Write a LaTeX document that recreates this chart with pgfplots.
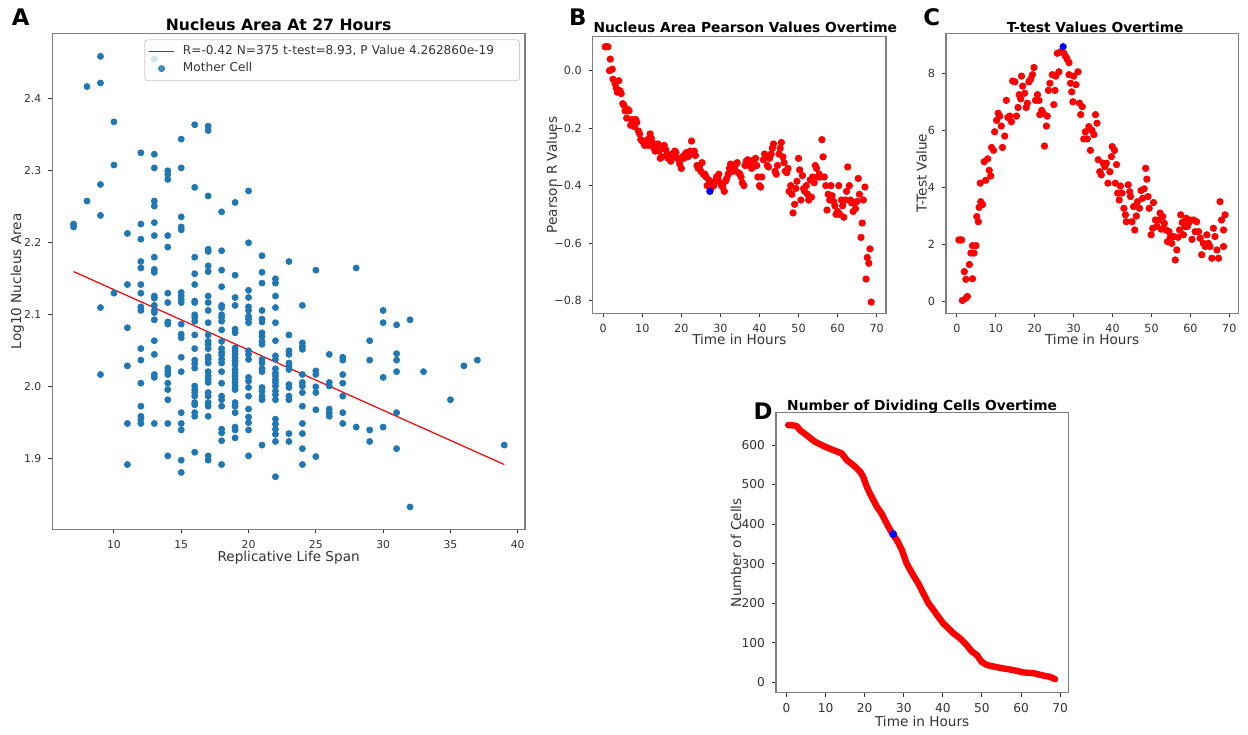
\documentclass[border=0pt]{standalone}
\usepackage{fontspec}
\setmainfont{DejaVu Sans}
\usepackage{pgfplots}
\pgfplotsset{compat=1.18}
\definecolor{mplblue}{HTML}{1F77B4}
\definecolor{spine}{HTML}{7F7F7F}
\definecolor{txt}{HTML}{333333}
\definecolor{legedge}{HTML}{CCCCCC}
\pgfplotsset{
  lineleg/.style={legend image code/.code={\draw[##1] (0pt,0pt) -- (12.2pt,0pt);}},
  dotleg/.style={legend image code/.code={\draw[##1] plot coordinates {(6.1pt,0pt)};}},
  myaxis/.style={
    scale only axis,
    axis line style={draw=spine, line width=0.6pt},
    tick style={draw=txt, line width=0.45pt},
    tick align=outside,
    major tick length=2pt,
    xtick pos=bottom, ytick pos=left,
    ticklabel style={font=\fontsize{5.6}{6}\selectfont, text=txt},
    label style={font=\fontsize{6.8}{8}\selectfont, text=txt},
    xlabel style={at={(axis description cs:0.5,0)}, anchor=center, yshift=-13.3pt},
    ylabel style={at={(axis description cs:0,0.5)}, anchor=center},
    title style={font=\bfseries\fontsize{6.9}{8}\selectfont, at={(axis description cs:0.5,1)}, anchor=base},
    /pgf/number format/assume math mode=true,
    clip=true,
  },
}
\begin{document}
\begin{tikzpicture}
\path[use as bounding box, fill=white] (0,0) rectangle (624pt,367pt);
% ---------------- Panel A ----------------
\begin{axis}[myaxis,
  at={(26.15pt,102.35pt)}, anchor=south west,
  width=236.35pt, height=248pt,
  xmin=5.42, xmax=40.54, ymin=1.802, ymax=2.491,
  xtick={10,15,...,40}, xticklabels={10,15,20,25,30,35,40},
  ytick={1.9,2.0,2.1,2.2,2.3,2.4}, yticklabels={1.9,2.0,2.1,2.2,2.3,2.4},
  ticklabel style={font=\fontsize{5.4}{6}\selectfont},
  xlabel={Replicative Life Span}, ylabel={Log10 Nucleus Area},
  xlabel style={yshift=-1.1pt},
  ylabel style={yshift=17.5pt},
  title={Nucleus Area At 27 Hours},
  title style={font=\bfseries\fontsize{7.8}{9}\selectfont, xshift=-5pt, yshift=-4.4pt},
  legend style={at={(1,1)}, anchor=north east, xshift=-2.5pt, yshift=-3pt,
    font=\fontsize{6.05}{7}\selectfont, text=txt, draw=legedge, rounded corners=1.5pt,
    fill=white, fill opacity=0.8, text opacity=1, draw opacity=1,
    inner xsep=2pt, inner ysep=1.85pt, row sep=0pt,
    nodes={inner ysep=1.15pt, inner xsep=4.3pt, text width=162pt, align=left}},
  legend cell align=left,
]
\addplot[red, line width=0.6pt, lineleg] coordinates {(7,2.160) (39,1.892)};
\addlegendentry{R=-0.42 N=375 t-test=8.93, P Value 4.262860e-19}
\addplot[only marks, mark=*, mark size=1.5pt, draw=mplblue, fill=mplblue, dotleg] table[row sep=\\] {
x y\\
7 2.226\\ 7 2.222\\ 8 2.417\\ 8 2.258\\ 9 2.459\\ 9 2.422\\ 9 2.281\\ 9 2.238\\ 9 2.110\\ 9 2.017\\
10 2.368\\ 10 2.308\\ 10 2.130\\
11 2.213\\ 11 2.142\\ 11 2.082\\ 11 2.029\\ 11 1.949\\ 11 1.892\\
12 2.325\\ 12 2.226\\ 12 2.205\\ 12 2.174\\ 12 2.165\\ 12 2.142\\ 12 2.130\\ 12 2.111\\ 12 2.106\\ 12 2.053\\ 12 2.037\\ 12 2.005\\ 12 1.973\\ 12 1.959\\ 12 1.955\\ 12 1.949\\
13 2.455\\ 13 2.323\\ 13 2.304\\ 13 2.258\\ 13 2.251\\ 13 2.228\\ 13 2.210\\ 13 2.180\\ 13 2.163\\ 13 2.159\\ 13 2.126\\ 13 2.123\\ 13 2.113\\ 13 2.106\\ 13 2.103\\ 13 2.093\\ 13 2.064\\ 13 2.045\\ 13 2.017\\ 13 2.013\\ 13 1.949\\
14 2.300\\ 14 2.295\\ 14 2.288\\ 14 2.210\\ 14 2.194\\ 14 2.130\\ 14 2.117\\ 14 2.090\\ 14 2.087\\ 14 2.026\\ 14 2.022\\ 14 2.017\\ 14 2.005\\ 14 1.996\\ 14 1.982\\ 14 1.949\\ 14 1.904\\
15 2.344\\ 15 2.304\\ 15 2.236\\ 15 2.222\\ 15 2.218\\ 15 2.131\\ 15 2.126\\ 15 2.121\\ 15 2.117\\ 15 2.087\\ 15 2.073\\ 15 2.068\\ 15 2.041\\ 15 2.021\\ 15 1.964\\ 15 1.949\\ 15 1.940\\ 15 1.898\\ 15 1.881\\
16 2.364\\ 16 2.277\\ 16 2.180\\ 16 2.157\\ 16 2.142\\ 16 2.119\\ 16 2.117\\ 16 2.100\\ 16 2.096\\ 16 2.091\\ 16 2.072\\ 16 2.053\\ 16 2.037\\ 16 2.032\\ 16 2.026\\ 16 2.001\\ 16 1.996\\ 16 1.992\\ 16 1.987\\ 16 1.978\\ 16 1.975\\ 16 1.964\\ 16 1.959\\ 16 1.909\\
17 2.362\\ 17 2.356\\ 17 2.265\\ 17 2.191\\ 17 2.188\\ 17 2.168\\ 17 2.160\\ 17 2.126\\ 17 2.117\\ 17 2.106\\ 17 2.089\\ 17 2.072\\ 17 2.063\\ 17 2.059\\ 17 2.053\\ 17 2.042\\ 17 2.038\\ 17 2.033\\ 17 2.021\\ 17 2.015\\ 17 2.010\\ 17 2.006\\ 17 1.992\\ 17 1.987\\ 17 1.978\\ 17 1.973\\ 17 1.959\\ 17 1.904\\ 17 1.898\\
18 2.243\\ 18 2.189\\ 18 2.162\\ 18 2.139\\ 18 2.113\\ 18 2.110\\ 18 2.100\\ 18 2.096\\ 18 2.091\\ 18 2.079\\ 18 2.063\\ 18 2.053\\ 18 2.048\\ 18 2.044\\ 18 2.038\\ 18 2.033\\ 18 2.021\\ 18 2.005\\ 18 1.987\\ 18 1.982\\ 18 1.973\\ 18 1.941\\ 18 1.936\\ 18 1.925\\ 18 1.892\\
19 2.256\\ 19 2.155\\ 19 2.124\\ 19 2.113\\ 19 2.080\\ 19 2.075\\ 19 2.054\\ 19 2.050\\ 19 2.045\\ 19 2.040\\ 19 2.036\\ 19 2.031\\ 19 2.024\\ 19 2.019\\ 19 2.015\\ 19 2.010\\ 19 2.006\\ 19 2.001\\ 19 1.996\\ 19 1.978\\ 19 1.973\\ 19 1.964\\ 19 1.944\\ 19 1.940\\ 19 1.929\\
20 2.272\\ 20 2.200\\ 20 2.134\\ 20 2.124\\ 20 2.111\\ 20 2.106\\ 20 2.098\\ 20 2.094\\ 20 2.089\\ 20 2.050\\ 20 2.045\\ 20 2.038\\ 20 2.013\\ 20 2.008\\ 20 1.999\\ 20 1.987\\ 20 1.969\\ 20 1.958\\ 20 1.950\\ 20 1.940\\ 20 1.904\\
21 2.182\\ 21 2.159\\ 21 2.144\\ 21 2.106\\ 21 2.094\\ 21 2.090\\ 21 2.075\\ 21 2.070\\ 21 2.063\\ 21 2.059\\ 21 2.038\\ 21 2.033\\ 21 2.025\\ 21 2.021\\ 21 1.999\\ 21 1.994\\ 21 1.987\\ 21 1.982\\ 21 1.919\\
22 2.150\\ 22 2.144\\ 22 2.126\\ 22 2.110\\ 22 2.089\\ 22 2.064\\ 22 2.043\\ 22 2.038\\ 22 2.025\\ 22 2.019\\ 22 2.015\\ 22 2.010\\ 22 2.006\\ 22 2.001\\ 22 1.994\\ 22 1.989\\ 22 1.982\\ 22 1.955\\ 22 1.948\\ 22 1.941\\ 22 1.934\\ 22 1.924\\ 22 1.875\\
23 2.174\\ 23 2.072\\ 23 2.050\\ 23 2.045\\ 23 2.033\\ 23 2.029\\ 23 2.024\\ 23 2.003\\ 23 1.999\\ 23 1.987\\ 23 1.982\\ 23 1.935\\ 23 1.924\\
24 2.113\\ 24 2.061\\ 24 2.056\\ 24 2.052\\ 24 2.017\\ 24 2.006\\ 24 2.001\\ 24 1.992\\ 24 1.973\\ 24 1.949\\ 24 1.935\\ 24 1.914\\ 24 1.892\\
25 2.162\\ 25 2.022\\ 25 2.017\\ 25 2.000\\ 25 1.992\\ 25 1.968\\ 25 1.903\\
26 2.045\\ 26 2.006\\ 26 2.001\\ 26 1.969\\ 26 1.964\\ 26 1.959\\
27 2.041\\ 27 2.037\\ 27 2.017\\ 27 2.005\\ 27 1.987\\ 27 1.964\\ 27 1.949\\
28 2.165\\ 28 1.944\\
29 2.064\\ 29 2.037\\ 29 1.940\\ 29 1.924\\
30 2.106\\ 30 2.089\\ 30 2.013\\ 30 1.944\\
31 2.086\\ 31 2.046\\ 31 2.037\\ 31 2.021\\ 31 1.964\\ 31 1.914\\
32 2.093\\ 32 1.833\\ 33 2.021\\ 35 1.982\\ 36 2.029\\ 37 2.037\\ 39 1.919\\
};
\addlegendentry{Mother Cell}
\end{axis}
\node[font=\bfseries\fontsize{11.4}{12}\selectfont, anchor=center] at (10.35pt,358.2pt) {A};
% ---------------- Panel B ----------------
\begin{axis}[myaxis,
  at={(296.35pt,210.35pt)}, anchor=south west,
  width=146.65pt, height=138.3pt,
  xmin=-2.7, xmax=72.4, ymin=-0.844, ymax=0.118,
  xtick={0,10,...,70}, xticklabels={0,10,20,30,40,50,60,70},
  ytick={-0.8,-0.6,-0.4,-0.2,0}, yticklabels={−0.8,−0.6,−0.4,−0.2,0.0},
  xlabel={Time in Hours}, ylabel={Pearson R Values},
  ylabel style={yshift=20.5pt},
  title={Nucleus Area Pearson Values Overtime},
  title style={xshift=3pt, yshift=-3.8pt},
]
\addplot[only marks, mark=*, mark size=1.6pt, draw=red, fill=red] coordinates {
(0.5,0.083)(0.8,0.083)(1.2,0.083)(1.6,0.0)(1.8,0.04)(2.3,0.005)(2.5,-0.03)(3,-0.045)(3.3,-0.06)(3.6,-0.075)(4.0,-0.035)(4.3,-0.07)(4.6,-0.08)(5.0,-0.115)(5.3,-0.12)(5.6,-0.14)(6.0,-0.165)(6.3,-0.135)(6.6,-0.14)(7.0,-0.19)(7.3,-0.17)(7.6,-0.18)(8,-0.195)(8.3,-0.17)(8.6,-0.18)(9,-0.21)(9.3,-0.22)(9.6,-0.24)(10,-0.245)(10.3,-0.25)(10.6,-0.26)(11,-0.255)(11.3,-0.24)(11.6,-0.26)(12,-0.22)(12.3,-0.235)(12.6,-0.25)(13,-0.27)(13.3,-0.28)(13.6,-0.26)(14,-0.255)(14.3,-0.28)(14.6,-0.305)(15,-0.3)(15.3,-0.27)(15.6,-0.26)(16,-0.275)(16.3,-0.29)(16.6,-0.305)(17,-0.3)(17.3,-0.315)(17.6,-0.29)(18,-0.3)(18.3,-0.28)(18.6,-0.285)(19,-0.305)(19.3,-0.31)(19.6,-0.325)(20,-0.34)(20.3,-0.3)(20.6,-0.305)(21,-0.29)(21.3,-0.285)(21.6,-0.3)(22,-0.295)(22.3,-0.28)(22.6,-0.245)(23,-0.29)(23.3,-0.28)(23.6,-0.295)(24,-0.33)(24.3,-0.34)(24.6,-0.335)(25,-0.35)(25.3,-0.32)(25.6,-0.36)(26,-0.36)(26.3,-0.37)(26.6,-0.4)(27,-0.38)(27.6,-0.41)(28,-0.395)(28.3,-0.4)(28.6,-0.385)(29,-0.37)(29.3,-0.375)(29.6,-0.36)(30,-0.39)(30.3,-0.4)(30.6,-0.405)(31,-0.42)(31.3,-0.385)(31.6,-0.375)(32,-0.36)(32.3,-0.34)(32.6,-0.325)(33,-0.33)(33.3,-0.35)(33.6,-0.34)(34,-0.325)(34.3,-0.32)(34.6,-0.355)(35,-0.36)(35.3,-0.37)(35.6,-0.39)(36,-0.4)(36.3,-0.33)(36.6,-0.315)(37,-0.31)(37.3,-0.33)(37.6,-0.32)(38,-0.34)(38.3,-0.335)(38.6,-0.31)(39,-0.305)(39.3,-0.33)(39.6,-0.37)(40,-0.4)(40.3,-0.405)(40.6,-0.37)(41,-0.31)(41.3,-0.29)(41.6,-0.3)(42,-0.33)(42.3,-0.335)(42.6,-0.305)(43,-0.29)(43.3,-0.27)(43.6,-0.255)(44,-0.35)(44.3,-0.36)(44.6,-0.33)(45,-0.29)(45.3,-0.27)(45.6,-0.25)(46,-0.3)(46.3,-0.32)(46.6,-0.35)(47,-0.355)(47.3,-0.34)(47.6,-0.42)(48,-0.4)(48.3,-0.43)(48.6,-0.495)(49,-0.465)(49.3,-0.41)(49.6,-0.385)(50,-0.305)(50.3,-0.345)(50.6,-0.45)(51,-0.365)(51.3,-0.41)(51.6,-0.42)(52,-0.4)(52.3,-0.43)(52.6,-0.45)(53,-0.38)(53.3,-0.44)(53.6,-0.37)(54,-0.39)(54.3,-0.33)(54.6,-0.34)(55,-0.37)(55.3,-0.36)(55.6,-0.37)(56,-0.24)(56.3,-0.3)(56.6,-0.37)(57,-0.4)(57.3,-0.485)(57.6,-0.43)(58,-0.45)(58.3,-0.4)(58.6,-0.435)(59,-0.455)(59.3,-0.47)(59.6,-0.5)(60,-0.49)(60.3,-0.4)(60.6,-0.5)(61,-0.45)(61.3,-0.47)(61.6,-0.51)(62,-0.45)(62.3,-0.42)(62.6,-0.335)(63,-0.4)(63.3,-0.45)(63.6,-0.46)(64,-0.49)(64.3,-0.46)(64.6,-0.48)(65,-0.455)(65.3,-0.375)(65.6,-0.43)(66,-0.58)(66.3,-0.53)(66.6,-0.45)(67,-0.405)(67.3,-0.725)(67.6,-0.65)(68,-0.67)(68.3,-0.62)(68.6,-0.805)
};
\addplot[only marks, mark=*, mark size=1.6pt, draw=blue, fill=blue] coordinates {(27.3,-0.42)};
\end{axis}
\node[font=\bfseries\fontsize{11.4}{12}\selectfont, anchor=center] at (288.85pt,358.6pt) {B};
% ---------------- Panel C ----------------
\begin{axis}[myaxis,
  at={(473pt,210.35pt)}, anchor=south west,
  width=146.15pt, height=140pt,
  xmin=-2.8, xmax=72.3, ymin=-0.41, ymax=9.40,
  xtick={0,10,...,70}, xticklabels={0,10,20,30,40,50,60,70},
  ytick={0,2,4,6,8}, yticklabels={0,2,4,6,8},
  xlabel={Time in Hours}, ylabel={T-Test Value},
  ylabel style={yshift=12.2pt},
  title={T-test Values Overtime},
  title style={xshift=1.5pt, yshift=-5.4pt},
]
\addplot[only marks, mark=*, mark size=1.6pt, draw=red, fill=red] coordinates {
(0.5,2.16)(0.9,2.16)(1.2,2.16)(1.4,0.04)(2.3,0.12)(2.7,0.18)(1.9,1.05)(2.3,0.78)(3.2,1.3)(3.6,1.7)(4.0,1.96)(4.0,0.8)(4.4,1.7)(4.9,1.96)
(5.1,2.98)(5.5,2.8)(5.7,3.3)(6.1,3.5)(6.0,4.15)(6.6,3.4)(7.0,4.9)(7.4,4.25)(7.9,5.0)(8.3,4.6)(8.7,4.4)(8.9,5.4)(9.4,5.3)(9.7,5.95)(10.2,6.35)(10.6,6.6)(11.0,6.5)(11.4,6.15)(11.7,5.4)(12.3,5.8)(12.7,7.05)(13.1,6.45)(13.6,6.5)(14.0,6.3)(14.3,7.73)(14.9,7.7)(15.3,6.5)(15.7,6.8)(16.0,7.25)(16.4,7.1)(16.6,7.9)(16.9,7.55)(17.4,7.3)(17.8,6.8)(18.1,6.95)(18.5,7.7)(19.0,7.8)(19.4,7.95)(19.8,8.2)(20.2,7.05)(20.7,7.25)(21.1,7.05)(21.3,6.55)(21.8,6.7)(22.2,6.6)(22.5,5.45)(23.0,6.15)(23.2,6.5)(23.5,7.4)(23.9,7.65)(24.5,7.95)(24.9,6.9)(25.2,7.4)(25.4,7.9)(25.8,8.7)(26.2,8.05)(26.6,8.75)(27.5,8.7)(27.9,8.6)(28.3,8.5)(28.8,8.37)(28.8,7.95)(29.2,7.65)(29.5,7.35)(29.8,7.0)(30.0,7.9)(30.6,7.6)(31.1,8.05)(31.5,6.95)(31.8,6.55)(32.2,6.83)(32.6,5.7)(33.0,5.95)(33.5,5.7)(33.9,6.13)(34.3,5.3)(34.7,6.0)(35.2,5.85)(35.6,6.55)(36.0,6.25)(36.3,4.97)(36.7,4.55)(37.1,4.44)(37.6,4.85)(38.0,4.73)(38.4,4.85)(38.8,4.15)(39.3,4.55)(39.7,5.08)(39.9,5.43)(40.5,5.3)(40.7,4.15)(41.0,4.8)(41.3,3.8)(41.7,3.56)(42.0,4.05)(42.4,3.8)(42.9,3.27)(43.3,3.04)(43.5,2.8)(44.0,4.09)(44.4,3.85)(44.6,3.68)(45.0,2.8)(45.4,3.33)(45.7,2.51)(46.1,3.0)(46.4,3.5)(46.9,3.27)(47.3,3.89)(47.7,3.62)(48.1,3.95)(48.5,4.67)(48.8,4.29)(49.1,3.68)(49.4,3.27)(49.9,2.34)(50.3,2.57)(50.5,3.47)(51.0,2.86)(51.4,2.63)(51.8,2.86)(52.2,3.1)(52.5,2.54)(52.9,2.98)(53.3,2.74)(53.7,2.51)(54.1,2.1)(54.5,2.45)(54.8,2.25)(55.2,2.04)(55.7,2.28)(56.1,1.46)(56.5,1.81)(56.8,2.25)(57.2,2.51)(57.5,3.04)(57.9,2.77)(58.2,2.34)(58.6,2.63)(58.9,2.92)(59.2,2.63)(59.6,2.77)(59.9,2.86)(60.4,2.18)(60.8,2.86)(61.2,2.45)(61.6,2.8)(62.1,2.45)(62.5,2.22)(62.9,1.64)(63.3,2.04)(63.8,1.93)(64.2,2.34)(64.6,2.04)(65.0,1.93)(65.5,1.52)(65.9,2.57)(66.3,2.28)(66.8,1.81)(67.2,1.52)(67.6,3.5)(68.0,2.86)(68.5,1.93)(68.5,2.51)(68.9,3.04)
};
\addplot[only marks, mark=*, mark size=1.6pt, draw=blue, fill=blue] coordinates {(27.3,8.93)};
\end{axis}
\node[font=\bfseries\fontsize{11.4}{12}\selectfont, anchor=center] at (465.85pt,358.6pt) {C};
% ---------------- Panel D ----------------
\begin{axis}[myaxis,
  at={(388pt,20.65pt)}, anchor=south west,
  width=146.15pt, height=140pt,
  xmin=-2.7, xmax=72.1, ymin=-26.3, ymax=681.7,
  xtick={0,10,...,70}, xticklabels={0,10,20,30,40,50,60,70},
  ytick={0,100,...,600}, yticklabels={0,100,200,300,400,500,600},
  ticklabel style={font=\fontsize{6.1}{7}\selectfont},
  xlabel={Time in Hours}, ylabel={Number of Cells},
  xlabel style={yshift=-1.2pt},
  ylabel style={yshift=20pt},
  title={Number of Dividing Cells Overtime},
  title style={yshift=-4.8pt},
]
\addplot[red, line width=3.2pt, line cap=round, line join=round] coordinates {
(0.4,650.5)(1.5,650)(2.6,648)(3.4,638)(5.1,625)(7.3,608)(9.8,596)(12.0,587)(14.1,579)(15.4,562)(17.1,549)(18.8,533)(19.6,520)(20.5,495)(21.3,478)(22.2,461)(23.1,444)(24.3,427)(25.6,402)(27.1,375)(28.2,360)(29.5,335)(30.7,301)(32.4,271)(33.7,250)(35.0,225)(36.3,200)(37.6,183)(38.8,166)(40.1,149)(41.4,137)(42.7,124)(44.4,111)(46.1,94)(47.4,78)(48.7,69)(49.9,52)(51.2,44)(52.9,40)(55.5,35)(58.0,31)(60.6,25)(63.2,23)(65.7,17)(67.4,14)(68.7,8)
};
\addplot[only marks, mark=*, mark size=1.7pt, draw=blue, fill=blue] coordinates {(27.3,375)};
\end{axis}
\node[font=\bfseries\fontsize{11.4}{12}\selectfont, anchor=center] at (381.5pt,161.5pt) {D};
\end{tikzpicture}
\end{document}
